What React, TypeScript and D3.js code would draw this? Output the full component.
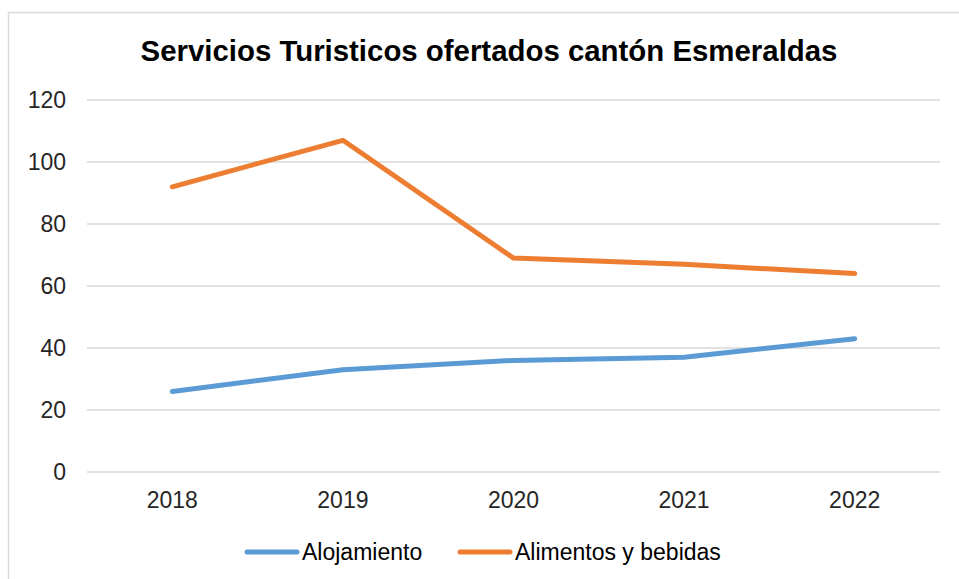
import React, { useEffect, useRef } from "react";
import * as d3 from "d3";

// chart data
const years = ["2018", "2019", "2020", "2021", "2022"];
const alojamiento = [26, 33, 36, 37, 43];
const alimentos = [92, 107, 69, 67, 64];
const yTicks = [0, 20, 40, 60, 80, 100, 120];

const seriesNames = ["Alojamiento", "Alimentos y bebidas"];
const seriesColors = ["#5B9BD5", "#ED7D31"];

const W = 959,
  H = 579;
const margin = { top: 100, right: 19, bottom: 107, left: 87 };

const App = () => {
  const ref = useRef<SVGSVGElement>(null);

  useEffect(() => {
    const svg = d3.select(ref.current);
    svg.selectAll("*").remove();
    const font = "'Liberation Sans', Arial, sans-serif";

    // outer frame of the chart area
    svg
      .append("rect")
      .attr("x", 8.5)
      .attr("y", 12.5)
      .attr("width", 960)
      .attr("height", 600)
      .attr("fill", "#fff")
      .attr("stroke", "#d9d9d9")
      .attr("stroke-width", 1.5);

    const width = W - margin.left - margin.right,
      height = H - margin.top - margin.bottom;

    const g = svg
      .append("g")
      .attr("transform", "translate(" + margin.left + "," + margin.top + ")");

    const x = d3.scaleBand().domain(years).range([0, width]);
    const y = d3.scaleLinear().domain([0, 120]).range([height, 0]);

    // gridlines
    g.selectAll(".grid")
      .data(yTicks)
      .enter()
      .append("line")
      .attr("x1", 0)
      .attr("x2", width)
      .attr("y1", d => y(d))
      .attr("y2", d => y(d))
      .attr("stroke", "#d9d9d9")
      .attr("stroke-width", 1.3);

    // y labels
    g.selectAll(".ylab")
      .data(yTicks)
      .enter()
      .append("text")
      .attr("x", -21)
      .attr("y", d => y(d))
      .attr("dy", "0.36em")
      .attr("text-anchor", "end")
      .attr("font-family", font)
      .attr("font-size", 23)
      .attr("fill", "#262626")
      .text(d => d);

    // x labels
    g.selectAll(".xlab")
      .data(years)
      .enter()
      .append("text")
      .attr("x", d => x(d)! + x.bandwidth() / 2)
      .attr("y", height + 36)
      .attr("text-anchor", "middle")
      .attr("font-family", font)
      .attr("font-size", 23)
      .attr("fill", "#262626")
      .text(d => d);

    // lines
    const line = d3
      .line<number>()
      .x((d, i) => x(years[i])! + x.bandwidth() / 2)
      .y(d => y(d));

    [alojamiento, alimentos].forEach((s, i) => {
      g.append("path")
        .datum(s)
        .attr("d", line)
        .attr("fill", "none")
        .attr("stroke", seriesColors[i])
        .attr("stroke-width", 5)
        .attr("stroke-linejoin", "round")
        .attr("stroke-linecap", "round");
    });

    // title
    svg
      .append("text")
      .attr("x", 489)
      .attr("y", 61)
      .attr("text-anchor", "middle")
      .attr("font-family", font)
      .attr("font-weight", "bold")
      .attr("font-size", 29.4)
      .attr("fill", "#000")
      .text("Servicios Turisticos ofertados cantón Esmeraldas");

    // legend
    const legendX = [245, 458];
    seriesNames.forEach((name, i) => {
      const lg = svg.append("g").attr("transform", `translate(${legendX[i]},552)`);
      lg.append("line")
        .attr("x1", 2)
        .attr("x2", 52)
        .attr("stroke", seriesColors[i])
        .attr("stroke-width", 5)
        .attr("stroke-linecap", "round");
      lg.append("text")
        .attr("x", 57)
        .attr("dy", "0.36em")
        .attr("font-family", font)
        .attr("font-size", 23)
        .attr("fill", "#000")
        .text(name);
    });
  }, []);

  return (
    <svg
      ref={ref}
      width={W}
      height={H}
      style={{ position: "absolute", left: 0, top: 0 }}
    />
  );
};

export default App;
